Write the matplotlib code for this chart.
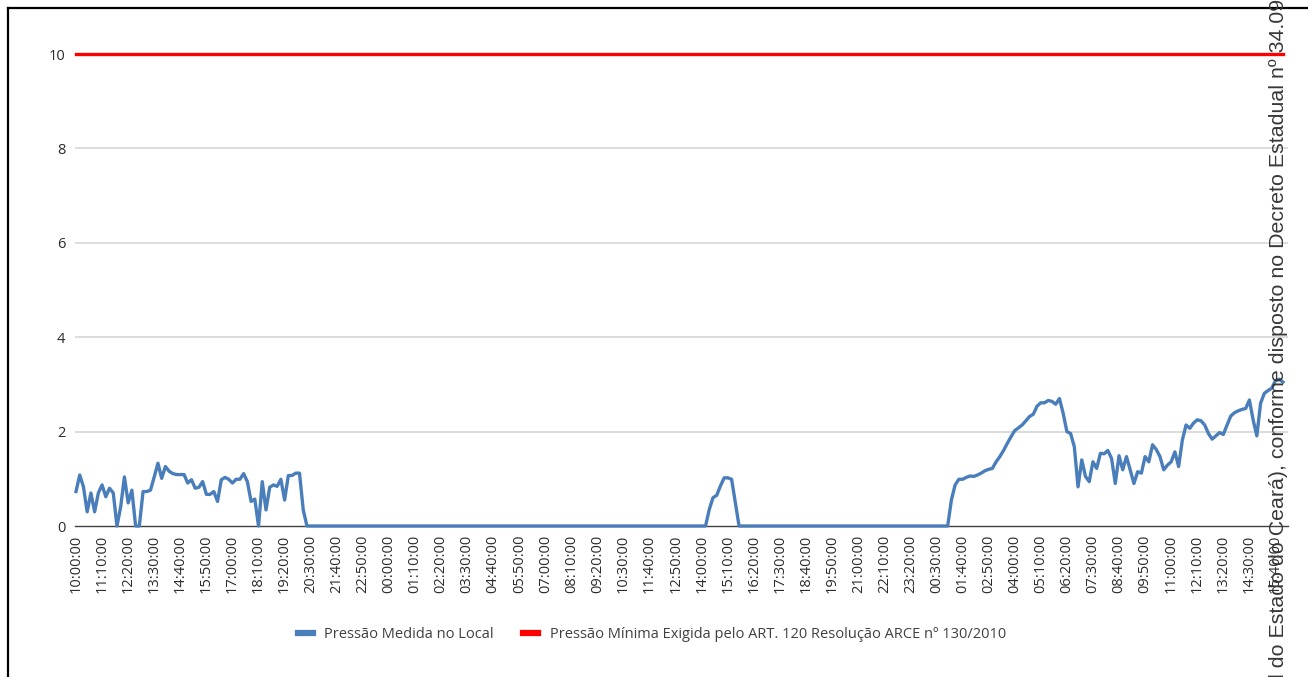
import matplotlib
matplotlib.use("Agg")
import matplotlib.pyplot as plt
from matplotlib.lines import Line2D

# ---------------- data ----------------
# Pressure measured every 10 minutes starting at 10:00:00
seg_day1 = [0.73, 1.08, 0.83, 0.30, 0.70, 0.30, 0.70, 0.87, 0.62, 0.80,
            0.70, 0.00, 0.41, 1.04, 0.49, 0.76, 0.00, 0.00, 0.73, 0.73,
            0.76, 1.04, 1.33, 1.01, 1.26, 1.16, 1.11, 1.09, 1.09, 1.09,
            0.91, 0.98, 0.80, 0.82, 0.94, 0.67, 0.67, 0.73, 0.52, 0.98,
            1.03, 0.99, 0.91, 0.99, 0.99, 1.11, 0.94, 0.52, 0.57, 0.00,
            0.94, 0.34, 0.82, 0.87, 0.84, 0.99, 0.55, 1.07, 1.07, 1.12,
            1.12, 0.34, 0.00]
seg_zero1 = [0.0, 0.0, 0.0, 0.0, 0.0, 0.0, 0.0, 0.0, 0.0, 0.0,
             0.0, 0.0, 0.0, 0.0, 0.0, 0.0, 0.0, 0.0, 0.0, 0.0,
             0.0, 0.0, 0.0, 0.0, 0.0, 0.0, 0.0, 0.0, 0.0, 0.0,
             0.0, 0.0, 0.0, 0.0, 0.0, 0.0, 0.0, 0.0, 0.0, 0.0,
             0.0, 0.0, 0.0, 0.0, 0.0, 0.0, 0.0, 0.0, 0.0, 0.0,
             0.0, 0.0, 0.0, 0.0, 0.0, 0.0, 0.0, 0.0, 0.0, 0.0,
             0.0, 0.0, 0.0, 0.0, 0.0, 0.0, 0.0, 0.0, 0.0, 0.0,
             0.0, 0.0, 0.0, 0.0, 0.0, 0.0, 0.0, 0.0, 0.0, 0.0,
             0.0, 0.0, 0.0, 0.0, 0.0, 0.0, 0.0, 0.0, 0.0, 0.0,
             0.0, 0.0, 0.0, 0.0, 0.0, 0.0, 0.0, 0.0, 0.0, 0.0,
             0.0, 0.0, 0.0, 0.0, 0.0, 0.0]
seg_peak = [0.00, 0.35, 0.60, 0.65, 0.85, 1.02, 1.02, 0.99, 0.50, 0.00]
seg_zero2 = [0.0, 0.0, 0.0, 0.0, 0.0, 0.0, 0.0, 0.0, 0.0, 0.0,
             0.0, 0.0, 0.0, 0.0, 0.0, 0.0, 0.0, 0.0, 0.0, 0.0,
             0.0, 0.0, 0.0, 0.0, 0.0, 0.0, 0.0, 0.0, 0.0, 0.0,
             0.0, 0.0, 0.0, 0.0, 0.0, 0.0, 0.0, 0.0, 0.0, 0.0,
             0.0, 0.0, 0.0, 0.0, 0.0, 0.0, 0.0, 0.0, 0.0, 0.0,
             0.0, 0.0, 0.0, 0.0, 0.0]
seg_day3 = [0.00, 0.55, 0.87, 0.99, 0.99, 1.03, 1.06, 1.05, 1.08, 1.12,
            1.17, 1.20, 1.22, 1.36, 1.47, 1.60, 1.75, 1.89, 2.02, 2.08,
            2.14, 2.23, 2.32, 2.37, 2.54, 2.61, 2.61, 2.66, 2.64, 2.58,
            2.70, 2.39, 2.00, 1.96, 1.68, 0.83, 1.40, 1.05, 0.94, 1.36,
            1.22, 1.54, 1.53, 1.60, 1.43, 0.90, 1.49, 1.19, 1.47, 1.19,
            0.90, 1.15, 1.12, 1.47, 1.36, 1.72, 1.62, 1.47, 1.19, 1.29,
            1.36, 1.57, 1.26, 1.82, 2.14, 2.07, 2.18, 2.25, 2.23, 2.14,
            1.96, 1.84, 1.91, 1.98, 1.94, 2.14, 2.33, 2.40, 2.44, 2.47,
            2.49, 2.67, 2.25, 1.91, 2.60, 2.81, 2.87, 2.92, 3.08, 3.11,
            3.05]

pressao_medida = seg_day1 + seg_zero1 + seg_peak + seg_zero2 + seg_day3
pressao_minima = 10.0

tick_labels = ["10:00:00", "11:10:00", "12:20:00", "13:30:00", "14:40:00",
               "15:50:00", "17:00:00", "18:10:00", "19:20:00", "20:30:00",
               "21:40:00", "22:50:00", "00:00:00", "01:10:00", "02:20:00",
               "03:30:00", "04:40:00", "05:50:00", "07:00:00", "08:10:00",
               "09:20:00", "10:30:00", "11:40:00", "12:50:00", "14:00:00",
               "15:10:00", "16:20:00", "17:30:00", "18:40:00", "19:50:00",
               "21:00:00", "22:10:00", "23:20:00", "00:30:00", "01:40:00",
               "02:50:00", "04:00:00", "05:10:00", "06:20:00", "07:30:00",
               "08:40:00", "09:50:00", "11:00:00", "12:10:00", "13:20:00",
               "14:30:00", "15:40:00"]
y_ticks = [0, 2, 4, 6, 8, 10]

label_medida = "Pressão Medida no Local"
label_minima = "Pressão Mínima Exigida pelo ART. 120 Resolução ARCE nº 130/2010"
overlay_text = "l do Estado do Ceará), conforme disposto no Decreto Estadual nº 34.09"

# ---------------- figure ----------------
W, H = 1308, 677
fig = plt.figure(figsize=(W / 100, H / 100), dpi=100)
fig.patch.set_facecolor("white")

ax_left, ax_right, ax_top, ax_bottom = 75, 1288, 54, 526
ax = fig.add_axes([ax_left / W, (H - ax_bottom) / H,
                   (ax_right - ax_left) / W, (ax_bottom - ax_top) / H])

n = len(pressao_medida)
x = list(range(n))
px_per_pt = 3.722
ax.set_xlim(-1 / px_per_pt, (ax_right - ax_left - 1) / px_per_pt - 1 / px_per_pt)
ax.set_ylim(0, 10)

# gridlines
for yv in y_ticks[1:-1]:
    ax.axhline(yv, color="#d9d9d9", lw=1.3, zorder=1)

ax.plot(x, pressao_medida, color="#4a7ebb", lw=2.4, zorder=3,
        solid_joinstyle="round", clip_on=False)
ax.plot(x, [pressao_minima] * n, color="#ff0000", lw=2.4, zorder=4,
        clip_on=False)

for s in ["top", "right", "left"]:
    ax.spines[s].set_visible(False)
ax.spines["bottom"].set_color("#404040")
ax.spines["bottom"].set_linewidth(1.0)
ax.spines["bottom"].set_zorder(2)

tick_pos = [i * 7 for i in range(len(tick_labels))]
ax.set_xticks(tick_pos)
ax.set_xticklabels(tick_labels, rotation=90, fontsize=10.5,
                   family="Open Sans", color="#2b2b2b")
ax.set_yticks(y_ticks)
ax.set_yticklabels([str(v) for v in y_ticks], fontsize=10.5,
                   family="Open Sans", color="#2b2b2b")
ax.tick_params(axis="both", length=0)
ax.tick_params(axis="x", pad=6)
ax.tick_params(axis="y", pad=7)

# legend
handles = [Line2D([0], [0], color="#4a7ebb", lw=4.5),
           Line2D([0], [0], color="#ff0000", lw=4.5)]
fig.legend(handles, [label_medida, label_minima], loc="center",
           bbox_to_anchor=(652 / W, 1 - 635 / H), ncol=2, frameon=False,
           prop={"family": "Open Sans", "size": 10.5},
           labelcolor="#404040", handlelength=1.0, handletextpad=0.8,
           columnspacing=2.0)

# border of the pasted figure
fig.add_artist(Line2D([8 / W, 8 / W], [0, 1 - 8 / H], color="black",
                      lw=1.6, transform=fig.transFigure))
fig.add_artist(Line2D([8 / W, 1], [1 - 8 / H, 1 - 8 / H], color="black",
                      lw=1.6, transform=fig.transFigure))

# overlapping rotated text from the document page
fig.text(1278 / W, -1 / H, overlay_text, rotation=90, ha="center",
         va="bottom", fontsize=15.4, family="Liberation Sans",
         color="#383838", zorder=10)

fig.savefig("out.png", dpi=100)
